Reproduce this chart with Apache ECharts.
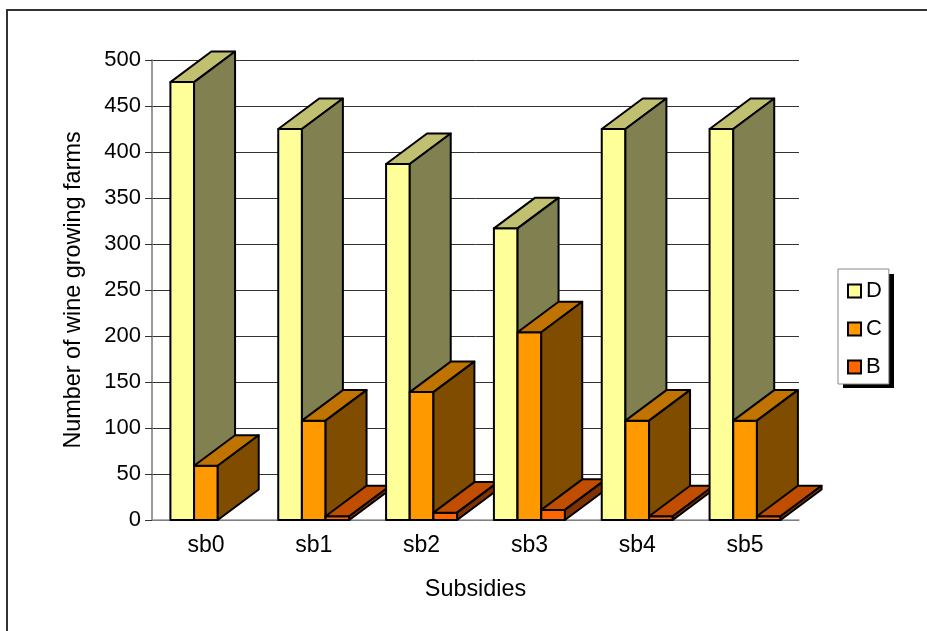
<!DOCTYPE html>
<html><head><meta charset="utf-8">
<style>html,body{margin:0;padding:0;background:#fff}#c{width:927px;height:631px}</style>
<script src="https://cdn.jsdelivr.net/npm/echarts@6/dist/echarts.min.js"></script>
</head><body><div id="c"></div>
<script>
const categories = ['sb0','sb1','sb2','sb3','sb4','sb5'];
const valuesD = [476,425,387,317,425,425];
const valuesC = [59,108,139,204,108,108];
const valuesB = [0,4,8,11,4,4];
const seriesNames = ['D','C','B'];
const seriesValues = [valuesD,valuesC,valuesB];
const faceColors = [
  {front:'#FFFF99',top:'#C0C070',side:'#808050'},
  {front:'#FF9900',top:'#C07300',side:'#804D00'},
  {front:'#FF6600',top:'#C04D00',side:'#803300'}
];
const chart = echarts.init(document.getElementById('c'),null,{renderer:'canvas'});
const FONT='"Liberation Sans",Arial,sans-serif';
const FS=23.4;
function render(s){
  return function(params,api){
    const cat=api.value(0), val=api.value(1);
    if(!val) return null;
    const band=api.size([1,0])[0];
    const w=band*0.2195, dx=band*0.38, dy=band*0.283;
    const base=api.coord([cat,0]), topP=api.coord([cat,val]);
    const x0=base[0]-w*1.5+s*w, x1=x0+w, yb=base[1], yt=topP[1];
    const z2=cat*10+s;
    const st=c=>({fill:c,stroke:'#000',lineWidth:2,lineJoin:'round'});
    const poly=(pts,c)=>({type:'polygon',z2:z2,shape:{points:pts},style:st(c)});
    return {type:'group',children:[
      poly([[x0,yb],[x1,yb],[x1,yt],[x0,yt]],faceColors[s].front),
      poly([[x0,yt],[x1,yt],[x1+dx,yt-dy],[x0+dx,yt-dy]],faceColors[s].top),
      poly([[x1,yb],[x1+dx,yb-dy],[x1+dx,yt-dy],[x1,yt]],faceColors[s].side)
    ]};
  };
}
chart.setOption({
  animation:false,
  backgroundColor:'#fff',
  graphic:[
    {type:'line',shape:{x1:6,y1:10,x2:927,y2:10},style:{stroke:'#333',lineWidth:2},silent:true},
    {type:'line',shape:{x1:7,y1:9,x2:7,y2:631},style:{stroke:'#333',lineWidth:2},silent:true},
    {type:'rect',z:1,shape:{x:843,y:274,width:51,height:114},style:{fill:'#000'},silent:true}
  ],
  grid:{left:152,right:128,top:60,bottom:111,containLabel:false},
  legend:{
    show:true,z:5,orient:'vertical',left:838,top:269,padding:[11,7,6,9],
    backgroundColor:'#fff',borderColor:'#888',borderWidth:1,
    itemWidth:13,itemHeight:13,itemGap:16,icon:'rect',selectedMode:false,
    textStyle:{fontFamily:FONT,fontSize:22,color:'#000'},
    data:seriesNames
  },
  xAxis:{
    type:'category',data:categories,boundaryGap:true,
    name:'Subsidies',nameLocation:'middle',nameGap:58,
    nameTextStyle:{fontFamily:FONT,fontSize:FS,color:'#000'},
    axisLine:{show:true,lineStyle:{color:'#999',width:1.5}},
    axisTick:{show:false},
    axisLabel:{fontFamily:FONT,fontSize:23,color:'#000',margin:14,align:'center'}
  },
  yAxis:{
    type:'value',min:0,max:500,interval:50,
    name:'Number of wine growing farms',nameLocation:'middle',nameRotate:90,nameGap:67,
    nameTextStyle:{fontFamily:FONT,fontSize:FS,color:'#000'},
    axisLine:{show:true,lineStyle:{color:'#777',width:1.5}},
    axisTick:{show:true,length:7,lineStyle:{color:'#333',width:1}},
    axisLabel:{fontFamily:FONT,fontSize:22,color:'#000',margin:11},
    splitLine:{show:true,lineStyle:{color:'#333',width:1}}
  },
  series:seriesNames.map((n,s)=>({
    type:'custom',name:n,clip:false,
    data:seriesValues[s].map((v,i)=>[i,v]),
    encode:{x:0,y:1},
    renderItem:render(s),
    itemStyle:{color:faceColors[s].front,borderColor:'#000',borderWidth:1.5}
  }))
});
</script></body></html>
